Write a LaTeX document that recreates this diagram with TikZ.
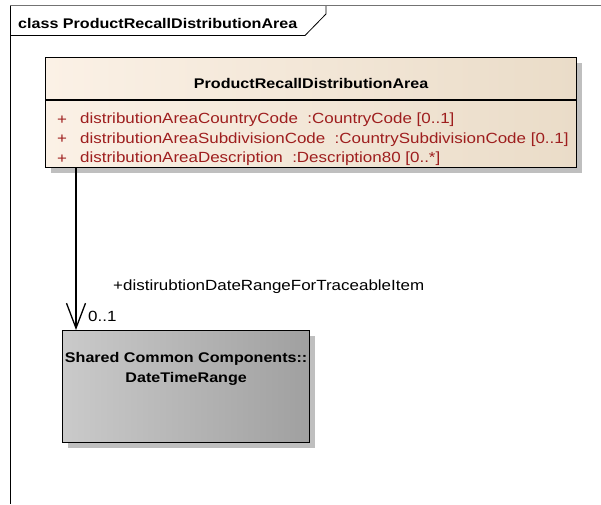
\documentclass[tikz,border=0pt]{standalone}
\usepackage{fontspec}
\setmainfont{Liberation Sans}[FakeStretch=1.15]
\usetikzlibrary{arrows.meta}
\definecolor{attrred}{RGB}{158,30,30}
\definecolor{classleft}{RGB}{251,241,230}
\definecolor{classright}{RGB}{234,220,200}
\definecolor{rangeleft}{RGB}{202,202,202}
\definecolor{rangeright}{RGB}{160,160,160}

\begin{document}
\begin{tikzpicture}
				[x=1pt, y=-1pt, font=\fontsize{14.75}{19.5}\selectfont,
				boldtext/.style = {font=\fontsize{14}{20}\selectfont\bfseries},
				box/.style = {draw, line width=1.3pt, inner sep=0pt, anchor=north west},
				shadow/.style = {fill=black!25, draw=none},
				attr/.style = {text=attrred, anchor=west, inner sep=0pt},
				lbl/.style = {anchor=west, inner sep=0pt},
				assoc/.style = {line width=1.3pt, -{Straight Barb[length=25pt, width=19pt]}}]
				\useasboundingbox (0,0) rectangle (601,504);
				\draw[line width=0.8pt] (10.5,6) -- (10.5,504);
				\draw[black!55, line width=1.5pt] (10,5.5) -- (601,5.5);
				\draw[line width=0.8pt] (10.5,35.5) -- (305,35.5) -- (326,14) -- (326,6);
				\node[lbl, boldtext] (title) at (18,23) {class ProductRecallDistributionArea};
				\fill[shadow] (51,63) rectangle (582,173);
				\node[box, left color=classleft, right color=classright,
				minimum width=531pt, minimum height=110pt] (area) at (45,57) {};
				\draw[line width=1.3pt] ([yshift=-43pt]area.north west) -- ([yshift=-43pt]area.north east);
				\node[boldtext] (areaname) at ([yshift=-26.5pt]area.north) {ProductRecallDistributionArea};
				\foreach \txt [count=\i] in {{distributionAreaCountryCode\ \ :CountryCode [0..1]},
					{distributionAreaSubdivisionCode\ \ :CountrySubdivisionCode [0..1]},
					{distributionAreaDescription\ \ :Description80 [0..*]}} {
					\node[attr] (plus\i) at (57, 100.5+19.5*\i) {+};
					\node[attr] (attr\i) at (80, 100.5+19.5*\i) {\txt};
				}
				\fill[shadow] (68,336) rectangle (315,448);
				\node[box, left color=rangeleft, right color=rangeright,
				minimum width=247pt, minimum height=112pt] (range) at (62,330) {};
				\node[align=center, inner sep=0pt, boldtext] (rangename) at ([yshift=-39pt]range.north) {Shared Common Components::\\DateTimeRange};
				\coordinate (src) at (76,0);
				\draw[assoc] (area.south -| src) -- (range.north -| src);
				\node[lbl] (role) at (113,287) {+distirubtionDateRangeForTraceableItem};
				\node[lbl] (mult) at (88,316) {0..1};
			\end{tikzpicture}
\end{document}
